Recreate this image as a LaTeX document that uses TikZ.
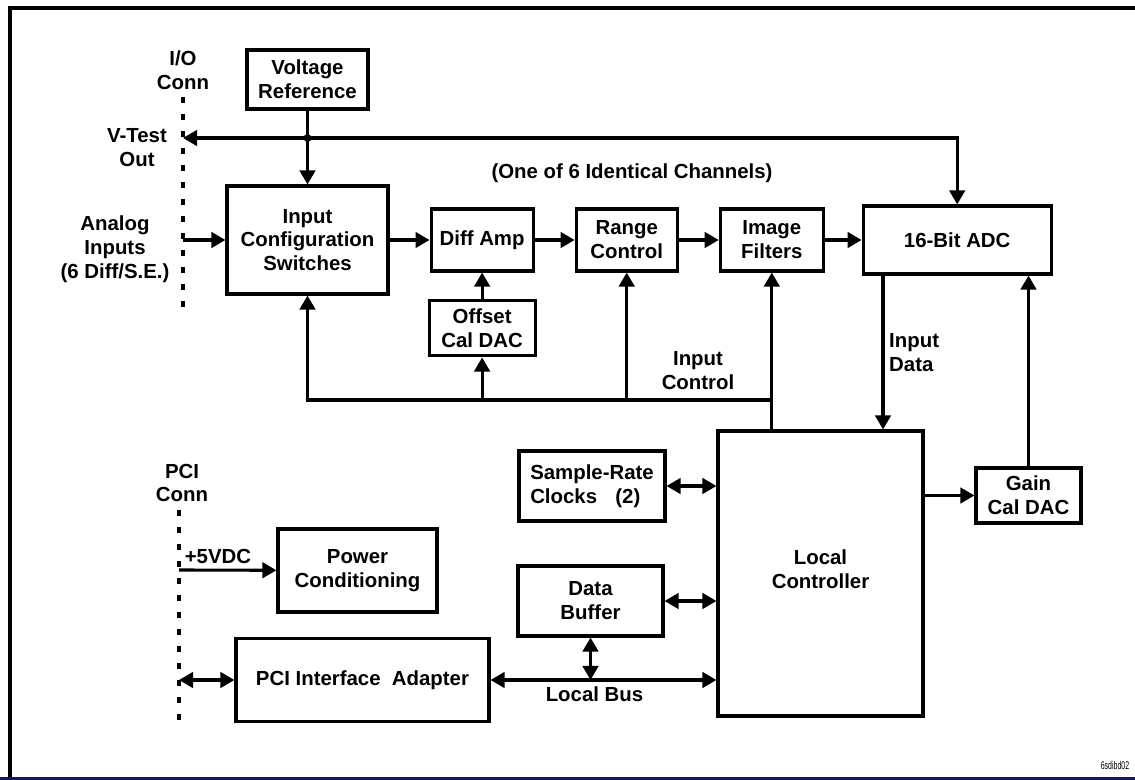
\documentclass[tikz,border=0pt]{standalone}
\usepackage{fontspec}
\setmainfont{Liberation Sans}
\usetikzlibrary{arrows.meta,positioning,calc}
\definecolor{stripblue}{RGB}{14,22,110}

\begin{document}
\begin{tikzpicture}[x=0.025cm,y=-0.025cm,>={Triangle[length=10pt,width=11pt]},line width=2.2pt,
  node distance=1.0cm,
  every node/.style={font=\fontsize{14.5}{17}\selectfont\bfseries,align=center},
  blk/.style 2 args={draw,inner sep=0pt,minimum width=#1*0.025cm,minimum height=#2*0.025cm},
  conn/.style={line width=2.8pt,dash pattern=on 4.3pt off 7.8pt}]
  \useasboundingbox (0,0) rectangle (1135,780);
  \fill[stripblue] (0,777) rectangle (1135,780);
  \draw[line width=2.9pt] (10,777) |- (1135,8);
  % connector edges
  \draw[conn] (183,97) -- (183,310);
  \draw[conn] (179,510) -- (179,720);
  \node (io) at (183,70) {I/O\\Conn};
  \node (vtst) at (137,148) {V-Test\\Out};
  \node (ain) at (115,249) {Analog\\Inputs\\(6 Diff/S.E.)};
  \node (pcic) at (182,483) {PCI\\Conn};
  \node (chn) at (632,173) {(One of 6 Identical Channels)};
  \node (ictl) at (698,371) {Input\\Control};
  % channel
  \node[blk={121}{59}] (volt) at (307.5,79.5) {Voltage\\Reference};
  \node[blk={161}{108}] (ics) at (307.5,240) {Input\\Configuration\\Switches};
  \node[blk={102}{62}] (diff) [right=of ics] {Diff Amp};
  \node[blk={101}{62}] (rng) [right=of diff] {Range\\Control};
  \node[blk={103}{62}] (filt) [right=of rng] {Image\\Filters};
  \node[blk={188}{68}] (adc) [right=0.92cm of filt] {16-Bit ADC};
  \node[blk={106}{55}] (offs) [below=0.67cm of diff] {Offset\\Cal DAC};
  % controller side
  \node[blk={205}{285}] (lc) at (820.5,573.5) {Local\\Controller\\[-11pt]};
  \node[blk={105}{55}] (gain) at (1028.5,495.5) {Gain\\Cal DAC};
  \node[blk={146}{70},align=left] (clk) at (592,486) {Sample-Rate\\Clocks\hspace{0.9em}(2)};
  \node[blk={145}{70}] (buf) at (590.5,601) {Data\\Buffer};
  \node[blk={159}{83}] (pwr) at (357.5,570.5) {Power\\Conditioning};
  \node[blk={253}{83}] (pci) at (362.5,680) {PCI Interface\ \ Adapter};
  \node[font=\fontsize{8}{9}\selectfont,xscale=0.62,anchor=east] (code) at (1133,765) {6sdibd02};

  \coordinate (jn) at (307.5,138);
  \coordinate (vt) at (183,138);
  \coordinate (ai) at (183,240);
  \coordinate (cbus) at (0,400);
  \coordinate (din) at (883,0);
  \coordinate (p5) at (179,570);
  \coordinate (pd) at (179,680);

  \draw[->] (volt) -- (ics);
  \draw[->] (jn) -- (vt);
  \draw[->] (jn) -| (adc.north);
  \fill (jn) circle[radius=2.8pt];
  \draw[->] (ai) -- (ics);
  \draw[->] (ics) -- (diff);
  \draw[->] (diff) -- (rng);
  \draw[->] (rng) -- (filt);
  \draw[->] (filt) -- (adc);
  \draw[->] (offs) -- (diff);
  \draw[->] (filt |- lc.north) -- (filt);
  \draw[->] (filt |- cbus) -| (ics.south);
  \draw[->] (offs |- cbus) -- (offs);
  \draw[->] (rng |- cbus) -- (rng);
  \draw[->] (din |- adc.south) -- (din |- lc.north) node[midway,right,align=left] {Input\\Data};
  \draw[->] (gain) -- (gain |- adc.south);
  \draw[->] (lc.east |- gain) -- (gain);
  \draw[<->] (clk) -- (clk -| lc.west);
  \draw[<->] (buf) -- (buf -| lc.west);
  \draw[<->] (pci) -- (pci -| lc.west) node[pos=0.46,below] {Local Bus};
  \draw[<->] (buf) -- (buf |- pci);
  \draw[<->] (pd) -- (pci);
  \draw[->] (p5) -- (pwr) node[pos=0.4,above] {+5VDC};
\end{tikzpicture}
\end{document}
